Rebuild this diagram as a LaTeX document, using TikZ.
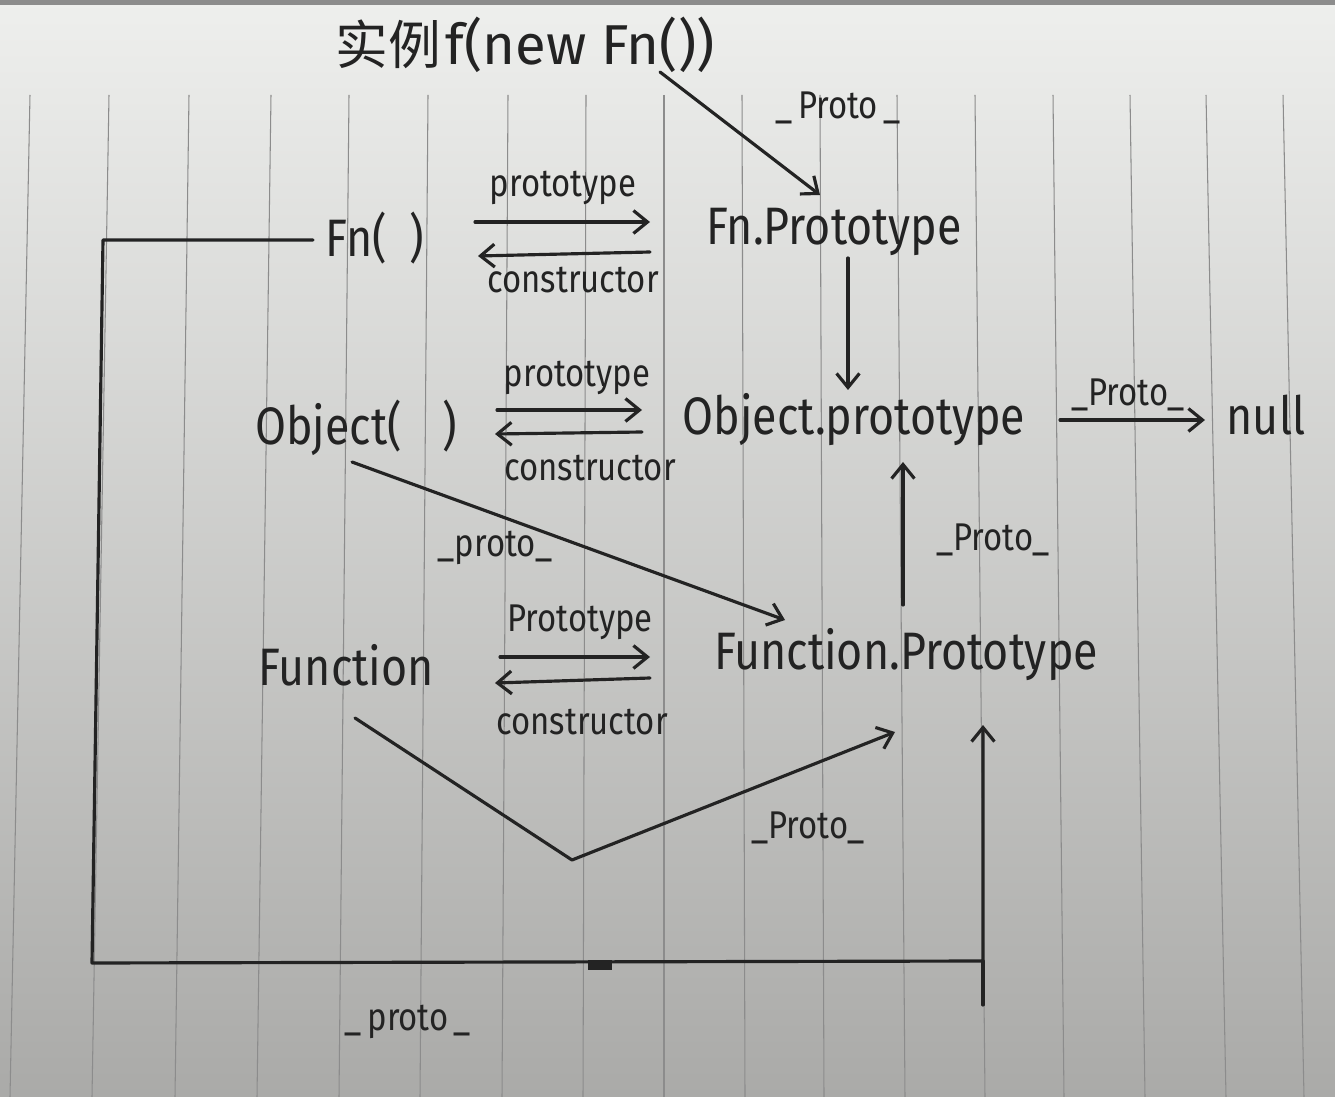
\documentclass[tikz,border=0pt]{standalone}
\usepackage{fontspec}
\setmainfont{Fira Sans}
\newfontfamily\cjk{Noto Sans CJK SC}
\usetikzlibrary{arrows.meta,calc}
\definecolor{ink}{RGB}{35,35,35}
\definecolor{paperA}{RGB}{238,239,237}
\definecolor{paperB}{RGB}{212,213,211}
\definecolor{paperC}{RGB}{170,170,168}
\definecolor{rule}{RGB}{140,140,140}
\newcommand{\hw}[1]{\scalebox{0.85}[1]{#1}}
\begin{document}
\begin{tikzpicture}[x=0.02cm,y=-0.02cm,
  big/.style={font=\fontsize{30}{30}\selectfont, text=ink, inner sep=0pt},
  lab/.style={font=\fontsize{22}{22}\selectfont, text=ink, inner sep=0pt},
  link/.style={draw=ink, line width=1.8pt, line cap=round, line join=round,
     -{Straight Barb[length=8pt,width=13pt,line width=1.8pt]}},
  plain/.style={draw=ink, line width=1.8pt, line cap=round, line join=round},
  ruled/.style={draw=rule, line width=0.6pt},
]
% paper
\useasboundingbox (0,0) rectangle (1335,1097);
\shade[top color=paperA, middle color=paperB, bottom color=paperC] (0,0) rectangle (1335,1097);
\fill[black!45] (0,0) rectangle (1335,5);
\foreach \xt/\xb in {30/10,109/92,189/175,271/257,349/339,428/420,508/502,586/583,664/664,742/745,820/824,897/905,975/985,1053/1064,1130/1145,1206/1226,1283/1304}
  \draw[ruled] (\xt,95) -- (\xb,1097);

% nodes
\node[text=ink, inner sep=0pt] (title) at (525,45)
  {{\cjk\fontsize{30}{30}\selectfont 实例}\ {\fontsize{32}{32}\selectfont f(new Fn())}};
\node[big] (fn) at (375,238) {\hw{Fn(\hspace{0.5em})}};
\node[big] (fnp) at (834,232) {\hw{Fn.Prototype}};
\node[big] (obj) at (356,428) {\hw{Object(\hspace{0.9em})}};
\node[big] (objp) at (854,420) {\hw{Object.prototype}};
\node[big] (null) at (1266,415) {\hw{null}};
\node[big] (func) at (346,665) {\hw{Function}};
\node[big] (funcp) at (906,655) {\hw{Function.Prototype}};

% edge labels
\node[lab] (l1) at (838,108) {\hw{\_\,Proto\,\_}};
\node[lab] (l2) at (563,188) {\hw{prototype}};
\node[lab] (l3) at (573,280) {\hw{constructor}};
\node[lab] (l4) at (577,378) {\hw{prototype}};
\node[lab] (l5) at (590,468) {\hw{constructor}};
\node[lab] (l6) at (1128,395) {\hw{\_Proto\_}};
\node[lab] (l7) at (993,540) {\hw{\_Proto\_}};
\node[lab] (l8) at (495,548) {\hw{\_proto\_}};
\node[lab] (l9) at (580,622) {\hw{Prototype}};
\node[lab] (l10) at (582,722) {\hw{constructor}};
\node[lab] (l11) at (808,828) {\hw{\_Proto\_}};
\node[lab] (l12) at (408,1022) {\hw{\_\,proto\,\_}};

% connectors
\draw[link] ($(title)+(135,27)$) -- ($(fnp)+(-14,-37)$);
\draw[link] ($(fn)+(100,-16)$) -- ($(fnp)+(-184,-10)$);
\draw[link] ($(fnp)+(-184,20)$) -- ($(fn)+(103,18)$);
\draw[link] ($(fnp)+(14,26)$) -- ($(objp)+(-6,-30)$);
\draw[link] ($(obj)+(141,-18)$) -- ($(objp)+(-212,-10)$);
\draw[link] ($(objp)+(-212,12)$) -- ($(obj)+(139,6)$);
\draw[link] ($(objp)+(206,0)$) -- ($(null)+(-61,5)$);
\draw[link] ($(funcp)+(-3,-50)$) -- ($(objp)+(49,42)$);
\draw[link] ($(obj)+(-4,34)$) -- ($(funcp)+(-121,-35)$);
\draw[link] ($(func)+(154,-8)$) -- ($(funcp)+(-256,2)$);
\draw[link] ($(funcp)+(-256,23)$) -- ($(func)+(149,18)$);
\coordinate (vtip) at (572,860);
\draw[link] ($(func)+(9,53)$) -- (vtip) -- ($(funcp)+(-11,77)$);
\coordinate (c1) at (103,240);
\coordinate (c2) at (92,963);
\coordinate (c3) at (983,961);
\coordinate (c4) at (983,1005);
\draw[link] ($(fn)+(-62,2)$) -- (c1) -- (c2) -- (c3) -- ($(funcp)+(77,70)$);
\draw[plain] (c3) -- (c4);
\fill[ink] (588,960) rectangle (612,970);
\end{tikzpicture}
\end{document}
